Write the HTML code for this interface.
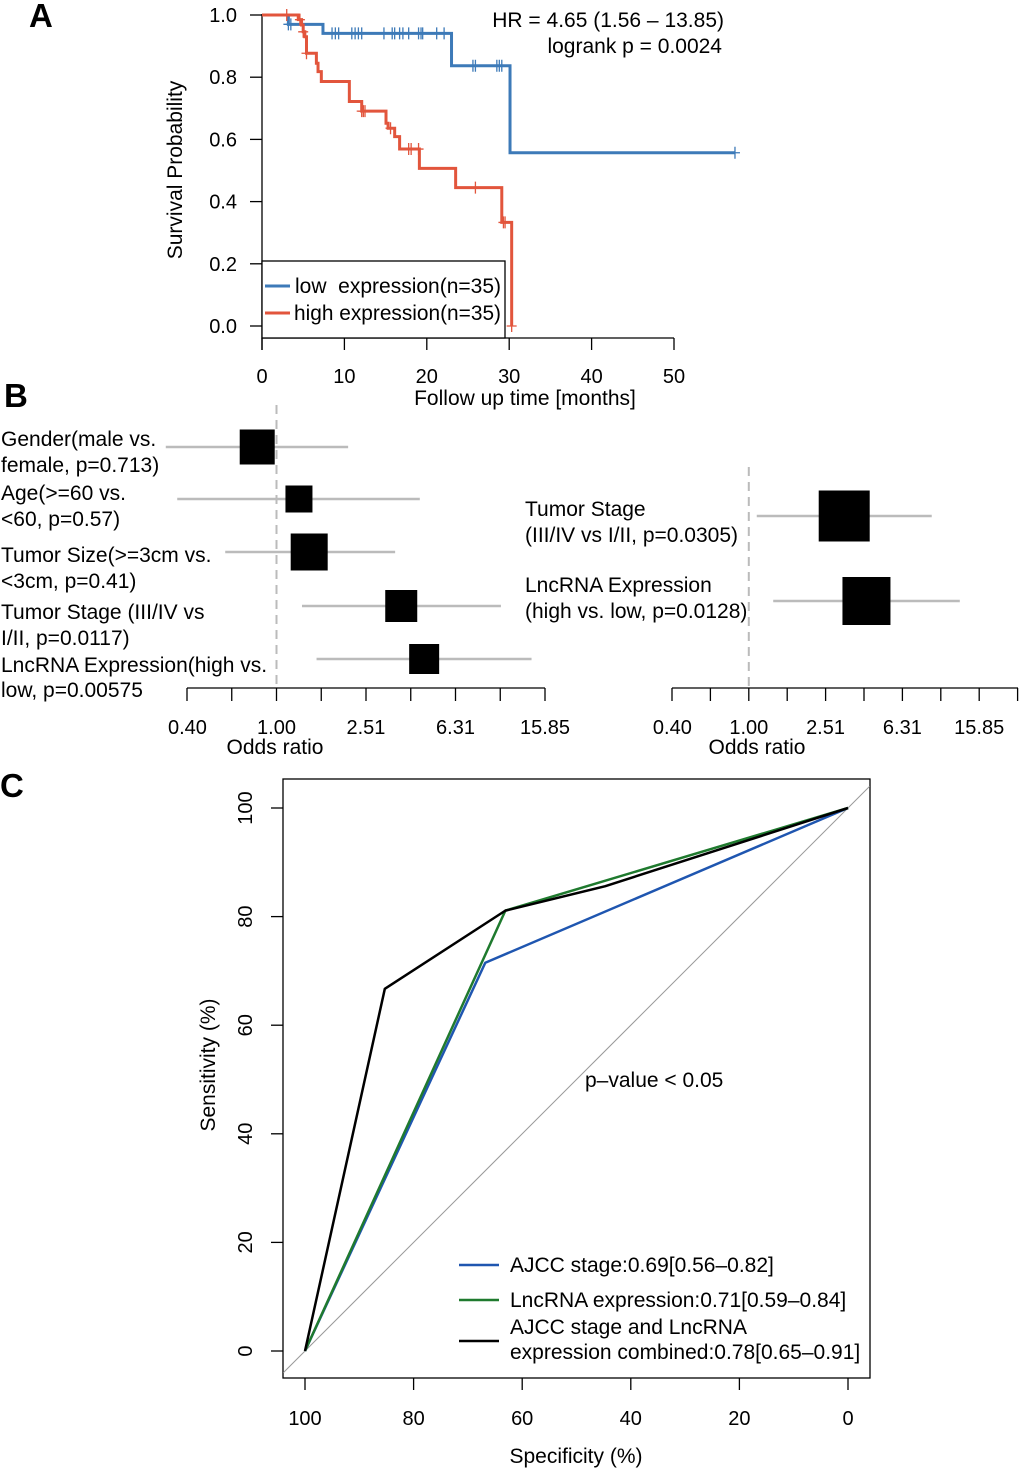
<!DOCTYPE html>
<html><head><meta charset="utf-8"><style>
html,body{margin:0;padding:0;background:#fff;}
svg{display:block;font-family:"Liberation Sans",Arial,sans-serif;}
text{white-space:pre;}
</style></head><body>
<svg id="fig" width="1020" height="1468" viewBox="0 0 1020 1468">
<g id="panelA"></g>
<g id="panelB"></g>
<g id="panelC"></g>
</svg>
<script>
// ---- Panel A data ----
const lowTimes = [3.2, 7.4, 23.0, 30.1];
const lowSurv = [0.97, 0.941, 0.837, 0.557];
const lowEnd = 57.4;
const lowCensT = [3.2,3.5,8.5,8.9,9.3,10.9,11.3,11.7,12.1,14.8,15.8,16.1,16.7,17.1,17.8,19.0,19.3,19.5,21.2,22.1,25.6,25.9,28.5,28.8,29.1,57.4];
const highTimes = [4.4,4.8,5.0,5.2,5.4,6.6,6.8,7.2,10.6,12.1,15.05,15.3,16.1,16.7,19.1,23.5,29.1,30.3];
const highSurv = [0.985,0.968,0.946,0.93,0.877,0.845,0.818,0.786,0.722,0.691,0.652,0.636,0.609,0.569,0.507,0.445,0.333,0];
const highCensT = [3.0,4.6,5.0,5.4,12.1,12.3,12.5,15.6,17.8,18.1,19.0,25.9,29.3,29.5,30.3];
const survXTicks = [0,10,20,30,40,50];
const survYTicks = [0,0.2,0.4,0.6,0.8,1.0];
// ---- Panel B data ----
const forestLeftOR = [0.82, 1.26, 1.40, 3.61, 4.57];
const forestLeftLo = [0.32, 0.36, 0.59, 1.30, 1.51];
const forestLeftHi = [2.09, 4.37, 3.39, 10.07, 13.80];
const forestLeftSize = [35, 27, 37, 32, 30];
const forestRightOR = [3.14, 4.10];
const forestRightLo = [1.10, 1.34];
const forestRightHi = [8.97, 12.56];
const forestRightSize = [51, 48];
const orTickLabels = ["0.40","1.00","2.51","6.31","15.85"];
// ---- Panel C data ----
const rocAjccSpec = [100, 66.8, 0];
const rocAjccSens = [0, 71.5, 100];
const rocLncSpec = [100, 63.1, 0];
const rocLncSens = [0, 81.1, 100];
const rocCombSpec = [100, 85.3, 63.1, 44.7, 0];
const rocCombSens = [0, 66.7, 81.1, 85.6, 100];
const rocTicks = [0,20,40,60,80,100];

const NS="http://www.w3.org/2000/svg";
function mk(parent,tag,attrs,text){const e=document.createElementNS(NS,tag);for(const k in attrs)e.setAttribute(k,attrs[k]);if(text!==undefined)e.textContent=text;parent.appendChild(e);return e;}
const FS=21, TS=20;

// ===== Panel A =====
(function(){
const g=document.getElementById('panelA');
const X=t=>262+8.24*t, Y=s=>326-311*s;
let e=mk(g,'text',{x:29,y:27,'font-size':33,'font-weight':'bold'},'A');

e=mk(g,'line',{x1:262,y1:14,x2:262,y2:350,stroke:'#000','stroke-width':1.3});

survYTicks.forEach(v=>{mk(g,'line',{x1:250,x2:262,y1:Y(v),y2:Y(v),stroke:'#000','stroke-width':1.3});
 e=mk(g,'text',{x:237,y:Y(v)+7,'font-size':TS,'text-anchor':'end'},v.toFixed(1));
 });
e=mk(g,'line',{x1:262,y1:338,x2:674,y2:338,stroke:'#000','stroke-width':1.3});

survXTicks.forEach(v=>{mk(g,'line',{x1:X(v),x2:X(v),y1:338,y2:350,stroke:'#000','stroke-width':1.3});
 e=mk(g,'text',{x:X(v),y:383,'font-size':TS,'text-anchor':'middle'},String(v));
 });
e=mk(g,'text',{x:525,y:405,'font-size':FS,'text-anchor':'middle'},'Follow up time [months]');

e=mk(g,'text',{x:0,y:0,'font-size':FS,'text-anchor':'middle',transform:'translate(182,170) rotate(-90)'},'Survival Probability');

function steps(times,surv,end){let d='M'+X(0)+','+Y(1);let s=1;times.forEach((t,i)=>{d+=' L'+X(t)+','+Y(s)+' L'+X(t)+','+Y(surv[i]);s=surv[i];});if(end!==undefined)d+=' L'+X(end)+','+Y(s);return d;}
function survAt(times,surv,t){let s=1;times.forEach((tt,i)=>{if(tt<=t)s=surv[i];});return s;}
e=mk(g,'path',{d:steps(lowTimes,lowSurv,lowEnd),fill:'none',stroke:'#3d7ab8','stroke-width':3});

lowCensT.forEach(t=>{const s=survAt(lowTimes,lowSurv,t);e=mk(g,'path',{d:`M${X(t)},${Y(s)-6}v12M${X(t)-5},${Y(s)}h10`,stroke:'#3d7ab8','stroke-width':1.3});
 });
e=mk(g,'path',{d:steps(highTimes,highSurv),fill:'none',stroke:'#e2553c','stroke-width':3});

highCensT.forEach(t=>{const s=survAt(highTimes,highSurv,t);e=mk(g,'path',{d:`M${X(t)},${Y(s)-6}v12M${X(t)-5},${Y(s)}h10`,stroke:'#e2553c','stroke-width':1.3});
 });
e=mk(g,'text',{x:724,y:27,'font-size':FS,'text-anchor':'end'},'HR = 4.65 (1.56 \u2013 13.85)');

e=mk(g,'text',{x:722,y:53,'font-size':FS,'text-anchor':'end'},'logrank p = 0.0024');

const lg=mk(g,'g',{});
mk(lg,'rect',{x:262,y:261,width:243,height:77,fill:'#fff',stroke:'#000','stroke-width':1.3});
mk(lg,'line',{x1:265,x2:290,y1:286,y2:286,stroke:'#3d7ab8','stroke-width':3});
mk(lg,'line',{x1:265,x2:290,y1:313,y2:313,stroke:'#e2553c','stroke-width':3});
e=mk(lg,'text',{x:295,y:293,'font-size':FS,textLength:206,lengthAdjust:'spacingAndGlyphs'},'low  expression(n=35)');
e=mk(lg,'text',{x:294,y:320,'font-size':FS,textLength:207,lengthAdjust:'spacingAndGlyphs'},'high expression(n=35)');
})();

// ===== Panel B =====
(function(){
const g=document.getElementById('panelB');
let e=mk(g,'text',{x:4,y:407,'font-size':33,'font-weight':'bold'},'B');

function forest(x0,pxPerLog,axisEnd,dashTop,rowsY,OR,lo,hi,size,name,titleX){
 const X=v=>x0+(Math.log10(v)+0.4)*pxPerLog;
 let e=mk(g,'line',{x1:X(1),x2:X(1),y1:dashTop,y2:688,stroke:'#bbb','stroke-width':2,'stroke-dasharray':'9,6'});
 
 rowsY.forEach((y,i)=>{e=mk(g,'line',{x1:X(lo[i]),x2:X(hi[i]),y1:y,y2:y,stroke:'#bbb','stroke-width':2.5});
  
  const s=size[i];e=mk(g,'rect',{x:X(OR[i])-s/2,y:y-s/2,width:s,height:s,fill:'#000'});
  });
 e=mk(g,'line',{x1:x0,x2:axisEnd,y1:688,y2:688,stroke:'#000','stroke-width':1.3});
 
 for(let k=0;x0+k*0.2*pxPerLog<=axisEnd+1;k++){const xx=x0+k*0.2*pxPerLog;mk(g,'line',{x1:xx,x2:xx,y1:688,y2:701,stroke:'#000','stroke-width':1.3});}
 orTickLabels.forEach(l=>{e=mk(g,'text',{x:X(parseFloat(l)),y:734,'font-size':TS,'text-anchor':'middle'},l);
  });
 e=mk(g,'text',{x:titleX,y:754,'font-size':FS,'text-anchor':'middle'},'Odds ratio');
 
}
forest(187,223.75,545,405,[447,499,552,606,659],forestLeftOR,forestLeftLo,forestLeftHi,forestLeftSize,'univariate',275);
forest(672,192,1018,467,[516,601],forestRightOR,forestRightLo,forestRightHi,forestRightSize,'multivariate',757);
const labs=[[1,446,'Gender(male vs.'],[1,472,'female, p=0.713)'],[1,500,'Age(>=60 vs.'],[1,526,'<60, p=0.57)'],[1,562,'Tumor Size(>=3cm vs.'],[1,588,'<3cm, p=0.41)'],[1,619,'Tumor Stage (III/IV vs'],[1,645,'I/II, p=0.0117)'],[1,672,'LncRNA Expression(high vs.'],[1,697,'low, p=0.00575'],
[525,516,'Tumor Stage'],[525,542,'(III/IV vs I/II, p=0.0305)'],[525,592,'LncRNA Expression'],[525,618,'(high vs. low, p=0.0128)']];
labs.forEach(l=>{const t=mk(g,'text',{x:l[0],y:l[1],'font-size':FS},l[2]);});
})();

// ===== Panel C =====
(function(){
const g=document.getElementById('panelC');
const X=s=>848-5.43*s, Y=v=>1351-5.43*v;
let e=mk(g,'text',{x:0,y:797,'font-size':33,'font-weight':'bold'},'C');

e=mk(g,'rect',{x:283,y:779,width:587,height:599,fill:'none',stroke:'#000','stroke-width':1.3});

e=mk(g,'line',{x1:X(104),y1:Y(-4),x2:X(-4),y2:Y(104),stroke:'#999','stroke-width':1});

rocTicks.forEach(v=>{mk(g,'line',{x1:271,x2:283,y1:Y(v),y2:Y(v),stroke:'#000','stroke-width':1.3});
 e=mk(g,'text',{x:0,y:0,'font-size':TS,'text-anchor':'middle',transform:`translate(252,${Y(v)}) rotate(-90)`},String(v));
 
 mk(g,'line',{x1:X(v),x2:X(v),y1:1378,y2:1390,stroke:'#000','stroke-width':1.3});
 e=mk(g,'text',{x:X(v),y:1425,'font-size':TS,'text-anchor':'middle'},String(v));
 });
e=mk(g,'text',{x:576,y:1463,'font-size':FS,'text-anchor':'middle'},'Specificity (%)');

e=mk(g,'text',{x:0,y:0,'font-size':FS,'text-anchor':'middle',transform:'translate(215,1065) rotate(-90)'},'Sensitivity (%)');

function line(sp,se,col,name){const pts=sp.map((s,i)=>X(s)+','+Y(se[i])).join(' ');const p=mk(g,'polyline',{points:pts,fill:'none',stroke:col,'stroke-width':2.5,'stroke-linejoin':'round'});
 }
line(rocAjccSpec,rocAjccSens,'#1f56b0','ajcc-roc-curve');
line(rocLncSpec,rocLncSens,'#1f7a2e','lncrna-roc-curve');
line(rocCombSpec,rocCombSens,'#000','combined-roc-curve');
e=mk(g,'text',{x:585,y:1087,'font-size':FS},'p\u2013value < 0.05');

const lg=mk(g,'g',{});
mk(lg,'line',{x1:459,x2:499,y1:1265,y2:1265,stroke:'#1f56b0','stroke-width':2.5});
mk(lg,'line',{x1:459,x2:499,y1:1300,y2:1300,stroke:'#1f7a2e','stroke-width':2.5});
mk(lg,'line',{x1:459,x2:499,y1:1341,y2:1341,stroke:'#000','stroke-width':2.5});
[[1272,'AJCC stage:0.69[0.56\u20130.82]'],[1307,'LncRNA expression:0.71[0.59\u20130.84]'],[1334,'AJCC stage and LncRNA'],[1359,'expression combined:0.78[0.65\u20130.91]']].forEach(l=>{
 const t=mk(lg,'text',{x:510,y:l[0],'font-size':FS},l[1]);});
})();
</script>
</body></html>
